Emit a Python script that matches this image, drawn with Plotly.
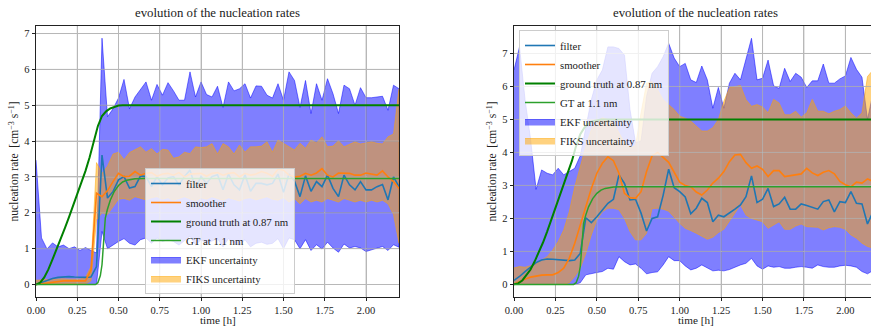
import plotly.graph_objects as go

# ---------------- data ----------------
# sampling grid: one sample every 2 minutes, 0 .. 2.2 h
time_min = list(range(0, 134, 2))
time_h = [m / 60 for m in time_min]

# ---- left panel ----
left_filter = [0.00, 0.06, 0.12, 0.17, 0.20, 0.22, 0.22, 0.21, 0.20, 0.20,
               0.21, 0.50, 3.61, 2.41, 2.59, 2.92, 3.01, 2.69, 2.73, 3.03,
               3.01, 2.73, 3.01, 2.78, 2.97, 3.01, 2.78, 3.01, 3.19, 2.69,
               3.01, 2.82, 3.01, 3.06, 2.64, 3.08, 2.78, 2.64, 3.06, 2.60,
               2.82, 2.82, 2.78, 2.82, 3.08, 2.57, 3.08, 2.88, 2.45, 3.03,
               2.60, 2.87, 2.73, 3.05, 2.68, 2.45, 3.05, 2.78, 2.64, 2.87,
               2.64, 2.64, 2.73, 2.79, 2.36, 3.00, 2.73]
left_smoother = [0.00, 0.02, 0.05, 0.08, 0.10, 0.10, 0.10, 0.10, 0.09, 0.10,
                 0.40, 2.55, 2.45, 2.62, 2.87, 3.10, 3.01, 3.02, 3.15, 3.05,
                 3.10, 3.12, 3.02, 3.08, 3.10, 3.05, 3.12, 3.00, 3.08, 3.10,
                 3.10, 3.02, 3.10, 3.12, 3.05, 3.10, 3.12, 3.00, 3.10, 3.05,
                 3.08, 3.15, 3.10, 3.02, 3.22, 3.19, 3.05, 3.00, 3.02, 3.10,
                 3.05, 3.11, 3.23, 3.05, 3.00, 3.11, 3.11, 3.10, 3.05, 3.05,
                 3.11, 3.08, 3.05, 3.17, 3.00, 2.87, 2.68]
left_ekf_hi = [3.47, 1.30, 0.99, 1.16, 1.05, 1.10, 1.00, 1.05, 0.95, 1.03,
               0.95, 0.88, 6.87, 4.68, 4.90, 5.20, 5.72, 4.90, 5.23, 5.45,
               5.65, 5.14, 5.58, 5.28, 5.63, 5.40, 5.14, 5.14, 5.93, 5.23,
               5.65, 5.30, 5.23, 5.53, 4.94, 5.65, 5.40, 5.46, 5.60, 5.20,
               5.54, 5.53, 5.28, 5.20, 5.60, 5.14, 5.93, 5.69, 4.94, 5.69,
               4.77, 5.60, 5.14, 5.74, 5.32, 4.77, 5.56, 5.46, 5.00, 5.49,
               5.21, 5.21, 5.23, 5.25, 4.86, 5.56, 5.46]
left_ekf_lo = [0.00, 0.00, 0.00, 0.00, 0.00, 0.00, 0.00, 0.00, 0.00, 0.00,
               0.00, 0.00, 1.48, 1.00, 1.10, 1.20, 1.28, 1.15, 1.10, 1.25,
               1.30, 1.15, 1.30, 1.20, 1.25, 1.20, 1.10, 1.22, 1.35, 1.10,
               1.25, 1.15, 1.22, 1.28, 1.05, 1.28, 1.15, 1.10, 1.25, 1.05,
               1.15, 1.18, 1.12, 1.15, 1.28, 1.00, 1.30, 1.25, 1.00, 1.25,
               0.95, 1.11, 0.99, 1.18, 1.02, 0.90, 1.13, 1.02, 1.06, 1.02,
               0.92, 0.97, 1.02, 1.06, 0.95, 1.11, 1.04]
left_fiks_hi = [0.12, 0.12, 0.14, 0.15, 0.16, 0.16, 0.15, 0.15, 0.15, 0.20,
                0.50, 3.40, 3.10, 3.30, 3.64, 3.69, 3.48, 3.68, 3.75, 3.84,
                3.69, 3.79, 3.64, 3.77, 3.75, 3.52, 3.56, 3.69, 3.65, 3.84,
                3.82, 3.84, 3.93, 3.64, 3.93, 3.84, 3.64, 3.89, 3.69, 3.84,
                3.84, 3.86, 3.98, 3.69, 4.03, 3.94, 3.84, 3.75, 3.94, 3.80,
                4.03, 3.95, 4.12, 3.84, 3.86, 4.01, 3.84, 3.92, 3.98, 3.92,
                3.94, 3.98, 3.94, 3.92, 4.12, 4.20, 5.46]
left_fiks_lo = [0.00, 0.00, 0.01, 0.02, 0.03, 0.03, 0.03, 0.03, 0.02, 0.02,
                0.10, 1.80, 2.00, 1.95, 2.15, 2.38, 2.40, 2.35, 2.45, 2.40,
                2.36, 2.42, 2.45, 2.38, 2.42, 2.35, 2.40, 2.45, 2.38, 2.33,
                2.42, 2.38, 2.45, 2.40, 2.35, 2.42, 2.38, 2.33, 2.40, 2.42,
                2.36, 2.40, 2.45, 2.38, 2.35, 2.43, 2.30, 2.40, 2.25, 2.40,
                2.30, 2.35, 2.30, 2.40, 2.35, 2.30, 2.40, 2.35, 2.30, 2.35,
                2.30, 2.35, 2.30, 2.35, 2.25, 1.95, 1.15]

# ---- right panel ----
right_filter = [0.12, 0.24, 0.39, 0.54, 0.66, 0.74, 0.77, 0.76, 0.74, 0.74,
                0.72, 0.74, 0.94, 2.02, 1.87, 2.05, 2.26, 2.46, 2.58, 3.32,
                3.06, 2.56, 2.58, 2.16, 1.62, 2.00, 2.05, 2.70, 3.49, 2.93,
                2.81, 2.65, 2.14, 2.31, 2.61, 2.48, 1.90, 2.10, 2.05, 2.16,
                2.28, 2.41, 2.66, 3.29, 2.48, 2.58, 2.91, 2.36, 2.44, 2.64,
                2.28, 2.28, 2.44, 2.39, 2.34, 2.28, 2.51, 2.56, 2.20, 2.51,
                2.48, 2.81, 2.46, 2.44, 1.83, 2.20, 2.30]
right_smoother = [0.01, 0.09, 0.16, 0.22, 0.26, 0.28, 0.29, 0.29, 0.36, 0.49,
                  0.79, 1.25, 1.80, 2.36, 2.91, 3.37, 3.67, 3.87, 3.75, 3.37,
                  2.76, 2.63, 2.61, 2.81, 3.42, 3.90, 4.00, 3.85, 3.70, 3.40,
                  3.10, 3.00, 2.96, 2.80, 2.71, 2.86, 3.07, 3.22, 3.42, 3.72,
                  3.92, 3.94, 3.69, 3.52, 3.59, 3.49, 3.27, 3.45, 3.45, 3.27,
                  3.30, 3.32, 3.35, 3.52, 3.38, 3.30, 3.40, 3.45, 3.35, 3.12,
                  3.02, 2.96, 3.10, 3.07, 3.20, 3.12, 3.10]
right_ekf_hi = [6.50, 7.20, 5.60, 4.40, 2.88, 3.47, 3.37, 3.32, 3.52, 3.32,
                3.42, 3.52, 3.90, 4.80, 5.60, 6.20, 6.50, 7.20, 7.20, 7.15,
                6.95, 5.30, 4.30, 4.35, 5.70, 6.40, 6.60, 6.90, 7.31, 6.86,
                6.60, 6.70, 6.20, 6.12, 6.62, 6.20, 5.34, 5.97, 5.34, 6.10,
                6.40, 6.20, 6.86, 7.46, 6.20, 6.25, 6.80, 6.02, 5.94, 6.55,
                6.15, 6.40, 6.28, 5.97, 6.17, 6.17, 6.68, 6.10, 6.10, 6.23,
                6.32, 6.88, 6.52, 6.28, 5.00, 5.80, 6.00]
right_ekf_lo = [0.00, 0.00, 0.00, 0.00, 0.00, 0.00, 0.00, 0.00, 0.00, 0.00,
                0.00, 0.00, 0.05, 0.29, 0.33, 0.36, 0.39, 0.49, 0.46, 0.84,
                0.69, 0.59, 0.62, 0.49, 0.32, 0.36, 0.38, 0.59, 0.84, 0.72,
                0.72, 0.56, 0.44, 0.49, 0.59, 0.49, 0.41, 0.43, 0.41, 0.45,
                0.52, 0.59, 0.64, 0.79, 0.56, 0.46, 0.56, 0.52, 0.54, 0.49,
                0.49, 0.52, 0.54, 0.52, 0.49, 0.59, 0.54, 0.52, 0.52, 0.56,
                0.58, 0.56, 0.52, 0.39, 0.32, 0.42, 0.40]
right_fiks_hi = [0.50, 0.54, 0.52, 0.56, 0.62, 0.74, 0.84, 1.04, 1.30, 1.65,
                 2.20, 2.96, 3.57, 4.18, 4.70, 4.95, 5.05, 5.00, 4.90, 4.60,
                 4.30, 4.15, 4.20, 5.20, 6.10, 6.15, 5.90, 5.60, 5.46, 5.30,
                 5.10, 5.04, 4.95, 4.80, 4.65, 4.65, 4.75, 5.00, 5.55, 5.96,
                 6.00, 6.03, 5.60, 5.40, 5.45, 5.38, 5.20, 5.61, 5.50, 5.14,
                 5.14, 5.25, 5.07, 5.20, 5.61, 5.25, 5.25, 5.17, 5.25, 5.30,
                 5.41, 5.20, 5.04, 5.20, 6.30, 6.50, 6.50]
right_fiks_lo = [0.00, 0.00, 0.00, 0.00, 0.00, 0.00, 0.00, 0.00, 0.00, 0.00,
                 0.05, 0.24, 0.49, 0.94, 1.50, 1.95, 2.20, 2.31, 2.31, 2.26,
                 2.00, 1.60, 1.35, 1.35, 1.55, 2.30, 2.31, 2.28, 2.22, 2.05,
                 1.85, 1.70, 1.63, 1.55, 1.47, 1.37, 1.43, 1.57, 1.67, 1.90,
                 2.16, 2.41, 2.10, 2.00, 1.95, 1.90, 1.70, 1.80, 1.90, 1.67,
                 1.67, 1.77, 1.83, 1.75, 1.75, 1.73, 1.65, 1.72, 1.75, 1.73,
                 1.67, 1.50, 1.40, 1.25, 1.15, 1.10, 1.00]

# ---- ground truths ----
gt087_t = [0.000, 0.025, 0.050, 0.075, 0.100, 0.125, 0.150, 0.175, 0.200, 0.225,
           0.250, 0.275, 0.300, 0.325, 0.350, 0.375, 0.400, 0.425, 0.450, 0.475,
           0.500, 0.525, 0.550, 0.600, 2.200]
left_gt087 = [0.00, 0.05, 0.20, 0.42, 0.70, 0.98, 1.27, 1.57, 1.88, 2.20,
              2.50, 2.83, 3.17, 3.55, 3.98, 4.42, 4.70, 4.83, 4.91, 4.96,
              4.99, 5.00, 5.00, 5.00, 5.00]
right_gt087 = [0.00, 0.03, 0.12, 0.27, 0.45, 0.70, 0.98, 1.27, 1.60, 1.95,
               2.30, 2.65, 3.00, 3.35, 3.75, 4.20, 4.55, 4.75, 4.88, 4.95,
               4.98, 5.00, 5.00, 5.00, 5.00]
gt11_t = [0.000, 0.360, 0.375, 0.390, 0.400, 0.410, 0.420, 0.433, 0.450, 0.475,
          0.500, 0.525, 0.550, 0.600, 0.650, 2.200]
gt11 = [0.00, 0.00, 0.05, 0.25, 0.55, 1.20, 1.85, 2.10, 2.35, 2.60,
        2.76, 2.86, 2.91, 2.95, 2.96, 2.96]

x_ticks = [0, 0.25, 0.5, 0.75, 1.0, 1.25, 1.5, 1.75, 2.0]
x_tick_labels = ["0.00", "0.25", "0.50", "0.75", "1.00", "1.25", "1.50", "1.75", "2.00"]
y_ticks = [0, 1, 2, 3, 4, 5, 6, 7]

# ---------------- figure ----------------
FONT = "'Liberation Serif', 'DejaVu Serif', 'Times New Roman', serif"
W, H = 871, 326
GRID = "#b8b8b8"
fig = go.Figure()


def grid_trace(xa, ya, xr, yr):
    # grid lines drawn above the bands and below the lines (like matplotlib)
    gx, gy = [], []
    for v in x_ticks:
        if xr[0] < v < xr[1]:
            gx += [v, v, None]
            gy += [yr[0], yr[1], None]
    for v in y_ticks:
        gx += [xr[0], xr[1], None]
        gy += [v, v, None]
    return go.Scatter(x=gx, y=gy, mode="lines", line=dict(color=GRID, width=0.8),
                      showlegend=False, hoverinfo="skip", xaxis=xa, yaxis=ya)


def add_panel(xa, ya, leg, xr, yr, filt, smooth, ekf_lo, ekf_hi, fiks_lo, fiks_hi, gt087):
    t = time_h
    fig.add_trace(go.Scatter(
        x=t + t[::-1], y=ekf_hi + ekf_lo[::-1], mode="lines", fill="toself",
        fillcolor="rgba(0,0,255,0.5)", line=dict(color="rgba(0,0,255,0.5)", width=1),
        name="EKF uncertainty", legend=leg, legendrank=5, xaxis=xa, yaxis=ya,
        hoverinfo="skip"))
    fig.add_trace(go.Scatter(
        x=t + t[::-1], y=fiks_hi + fiks_lo[::-1], mode="lines", fill="toself",
        fillcolor="rgba(255,165,0,0.5)", line=dict(color="rgba(255,165,0,0.5)", width=1),
        name="FIKS uncertainty", legend=leg, legendrank=6, xaxis=xa, yaxis=ya,
        hoverinfo="skip"))
    fig.add_trace(grid_trace(xa, ya, xr, yr))
    fig.add_trace(go.Scatter(
        x=t, y=filt, mode="lines", line=dict(color="#1f77b4", width=1.6),
        name="filter", legend=leg, legendrank=1, xaxis=xa, yaxis=ya))
    fig.add_trace(go.Scatter(
        x=t, y=smooth, mode="lines", line=dict(color="#ff7f0e", width=1.6),
        name="smoother", legend=leg, legendrank=2, xaxis=xa, yaxis=ya))
    fig.add_trace(go.Scatter(
        x=gt087_t, y=gt087, mode="lines", line=dict(color="#008000", width=2),
        name="ground truth at 0.87 nm", legend=leg, legendrank=3, xaxis=xa, yaxis=ya))
    fig.add_trace(go.Scatter(
        x=gt11_t, y=gt11, mode="lines", line=dict(color="#2ca02c", width=1.5),
        name="GT at 1.1 nm", legend=leg, legendrank=4, xaxis=xa, yaxis=ya))


XR1, YR1 = [0, 2.2], [-0.34, 7.21]
XR2, YR2 = [0, (871 - 514) / 165.7], [-0.373, 7.833]

add_panel("x", "y", "legend", XR1, YR1, left_filter, left_smoother, left_ekf_lo, left_ekf_hi,
          left_fiks_lo, left_fiks_hi, left_gt087)
add_panel("x2", "y2", "legend2", XR2, YR2, right_filter, right_smoother, right_ekf_lo, right_ekf_hi,
          right_fiks_lo, right_fiks_hi, right_gt087)

PLOT_TOP, PLOT_BOT = 26, 296.7
ydom = [1 - PLOT_BOT / H, 1 - PLOT_TOP / H]

common_ax = dict(
    showgrid=True, gridcolor=GRID, gridwidth=0.8, zeroline=False,
    showline=True, linecolor="#222", linewidth=1,
    ticks="outside", ticklen=3.5, tickwidth=0.8, tickcolor="#222",
    tickfont=dict(family=FONT, size=10.5, color="#222"), automargin=False,
)

fig.update_layout(
    width=W, height=H,
    margin=dict(l=0, r=0, t=0, b=0),
    paper_bgcolor="white", plot_bgcolor="white",
    font=dict(family=FONT, size=10, color="#222"),
    showlegend=True,
    xaxis=dict(domain=[36 / W, 399 / W], range=XR1, anchor="y", mirror=True,
               tickvals=x_ticks, ticktext=x_tick_labels, **common_ax),
    yaxis=dict(domain=ydom, range=YR1, anchor="x", mirror=True,
               tickvals=y_ticks, **common_ax),
    xaxis2=dict(domain=[514 / W, 1.0], range=XR2, anchor="y2", mirror=True,
                tickvals=x_ticks, ticktext=x_tick_labels, **common_ax),
    yaxis2=dict(domain=ydom, range=YR2, anchor="x2", mirror=False,
                tickvals=y_ticks, **common_ax),
    legend=dict(x=145 / W, y=1 - 294 / H, xanchor="left", yanchor="bottom",
                bgcolor="rgba(255,255,255,0.8)", bordercolor="#cccccc", borderwidth=1,
                font=dict(family=FONT, size=10.8, color="#222"), itemwidth=30,
                tracegroupgap=0),
    legend2=dict(x=519 / W, y=1 - 30 / H, xanchor="left", yanchor="top",
                 bgcolor="rgba(255,255,255,0.8)", bordercolor="#cccccc", borderwidth=1,
                 font=dict(family=FONT, size=10.8, color="#222"), itemwidth=30,
                 tracegroupgap=0),
)

title_txt = "evolution of the nucleation rates"
ylab = "nucleation rate  [cm<sup>\u22123</sup> s<sup>\u22121</sup>]"
annos = []
for cx, ylx in [(217.5, 14), (695.5, 492)]:
    annos.append(dict(text=title_txt, x=cx / W, y=1 - 13 / H, xref="paper", yref="paper",
                      xanchor="center", yanchor="middle", showarrow=False,
                      font=dict(family=FONT, size=12.8, color="#222")))
    annos.append(dict(text="time [h]", x=cx / W, y=1 - 319.5 / H, xref="paper", yref="paper",
                      xanchor="center", yanchor="middle", showarrow=False,
                      font=dict(family=FONT, size=11.2, color="#222")))
    annos.append(dict(text=ylab, x=ylx / W, y=1 - 161.4 / H, xref="paper", yref="paper",
                      xanchor="center", yanchor="middle", showarrow=False, textangle=-90,
                      font=dict(family=FONT, size=11.5, color="#222")))
fig.update_layout(annotations=annos)

fig.write_html("out.html", config={"displayModeBar": False},
               post_script="document.body.style.margin='0';")
